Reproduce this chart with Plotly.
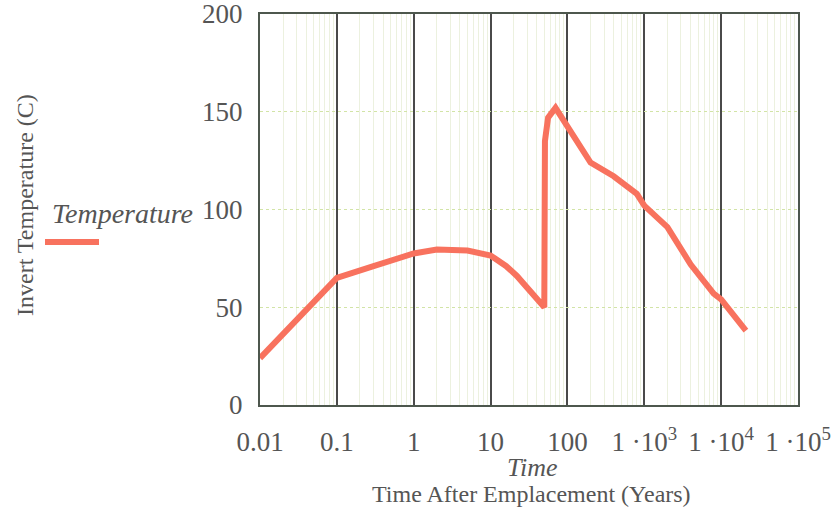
import plotly.graph_objects as go

time_years = [0.01, 0.1, 0.3, 1, 2, 5, 10, 16, 22, 30, 50, 51, 56, 70, 100, 200, 400, 800, 1000, 2000, 4000, 8000, 10000, 21000]
temperature = [24, 65, 71, 77.5, 79.5, 79, 76.5, 71, 66, 60, 50, 135, 147, 152, 142, 124, 117, 108, 102, 91, 72, 57, 54, 38]

x_tickvals = [0.01, 0.1, 1, 10, 100, 1e3, 1e4, 1e5]
x_ticktext = ["0.01", "0.1", "1", "10", "100", "1 ·10<sup>3</sup>", "1 ·10<sup>4</sup>", "1 ·10<sup>5</sup>"]
y_tickvals = [0, 50, 100, 150, 200]

LINE = "#f8725e"
FONT = "Liberation Serif, Times New Roman, serif"
TXT = "#555555"

L, R, T, B = 260, 798, 14, 405
PW, PH = R - L, B - T


def px(xp):
    return (xp - L) / PW


def py(yp):
    return (B - yp) / PH


fig = go.Figure()
fig.add_trace(go.Scatter(x=time_years, y=temperature, mode="lines",
                         line=dict(color=LINE, width=6), showlegend=False,
                         name="Temperature", hoverinfo="skip"))

fig.update_layout(
    width=831, height=512,
    margin=dict(l=L, r=831 - R, t=T, b=512 - B),
    paper_bgcolor="white", plot_bgcolor="white",
    font=dict(family=FONT, color=TXT, size=28),
    xaxis=dict(type="log", range=[-2, 5], tickvals=x_tickvals, ticktext=x_ticktext,
               showgrid=True, gridcolor="#4a4a4a", gridwidth=2,
               minor=dict(showgrid=True, gridcolor="#ecf1df", gridwidth=1, dtick="D1"),
               showline=True, linecolor="#4d574d", linewidth=2, mirror=True,
               ticks="", ticklabelstandoff=12, zeroline=False, automargin=False,
               ticklabeloverflow="allow",
               tickfont=dict(size=27, family=FONT, color=TXT)),
    yaxis=dict(range=[0, 200], tickvals=y_tickvals, showgrid=True,
               gridcolor="#d2e4a6", gridwidth=1, griddash="dot",
               showline=True, linecolor="#4d574d", linewidth=2, mirror=True,
               ticks="", ticklabelstandoff=10, zeroline=False, automargin=False,
               ticklabeloverflow="allow",
               tickfont=dict(size=27, family=FONT, color=TXT)),
)

fig.add_annotation(xref="paper", yref="paper", x=px(532), y=py(467),
                   xanchor="center", yanchor="middle",
                   text="<i>Time</i>", showarrow=False,
                   font=dict(size=26, family=FONT, color=TXT))
fig.add_annotation(xref="paper", yref="paper", x=px(531), y=py(494),
                   xanchor="center", yanchor="middle",
                   text="Time After Emplacement (Years)", showarrow=False,
                   font=dict(size=24, family=FONT, color=TXT))
fig.add_annotation(xref="paper", yref="paper", x=px(25), y=py(205),
                   xanchor="center", yanchor="middle",
                   text="Invert Temperature (C)", textangle=-90, showarrow=False,
                   font=dict(size=24, family=FONT, color=TXT))
fig.add_annotation(xref="paper", yref="paper", x=px(50), xanchor="left",
                   y=py(213), yanchor="middle", text="<i>Temperature</i>", showarrow=False,
                   font=dict(size=28, family=FONT, color=TXT))
fig.add_shape(type="line", xref="paper", yref="paper",
              x0=px(45), x1=px(99), y0=py(242), y1=py(242),
              line=dict(color=LINE, width=6))

fig.write_html("out.html", config={"displayModeBar": False},
               post_script="document.body.style.margin='0';")
